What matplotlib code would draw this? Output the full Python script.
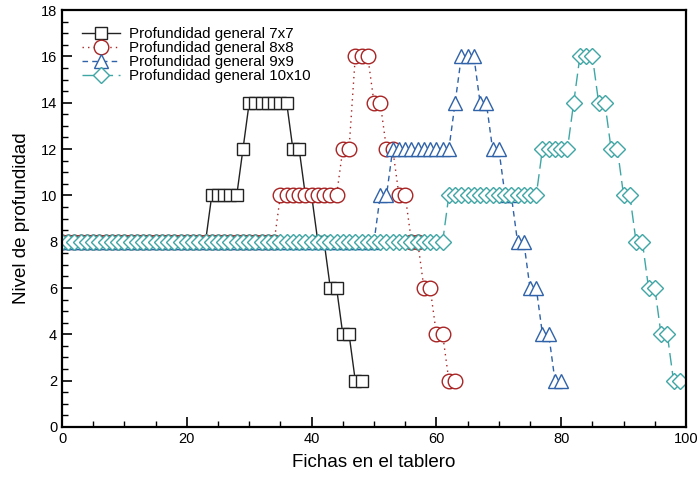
import matplotlib
matplotlib.use("Agg")
import matplotlib.pyplot as plt
from matplotlib.ticker import MultipleLocator

plt.rcParams['font.family'] = ['Liberation Sans', 'DejaVu Sans']

labels = ["Profundidad general 7x7", "Profundidad general 8x8",
          "Profundidad general 9x9", "Profundidad general 10x10"]

depth_7x7 = [8, 8, 8, 8, 8, 8, 8, 8, 8, 8,
             8, 8, 8, 8, 8, 8, 8, 8, 8, 8,
             8, 8, 8, 8,
             10, 10, 10, 10, 10,
             12,
             14, 14, 14, 14, 14, 14, 14,
             12, 12, 10, 10, 8, 8, 6, 6, 4, 4, 2, 2]

depth_8x8 = [8, 8, 8, 8, 8, 8, 8, 8, 8, 8,
             8, 8, 8, 8, 8, 8, 8, 8, 8, 8,
             8, 8, 8, 8, 8, 8, 8, 8, 8, 8,
             8, 8, 8, 8, 8,
             10, 10, 10, 10, 10, 10, 10, 10, 10, 10,
             12, 12,
             16, 16, 16,
             14, 14, 12, 12, 10, 10, 8, 8, 6, 6, 4, 4, 2, 2]

depth_9x9 = [8, 8, 8, 8, 8, 8, 8, 8, 8, 8,
             8, 8, 8, 8, 8, 8, 8, 8, 8, 8,
             8, 8, 8, 8, 8, 8, 8, 8, 8, 8,
             8, 8, 8, 8, 8, 8, 8, 8, 8, 8,
             8, 8, 8, 8, 8, 8, 8, 8, 8, 8,
             8,
             10, 10,
             12, 12, 12, 12, 12, 12, 12, 12, 12, 12,
             14,
             16, 16, 16,
             14, 14, 12, 12, 10, 10, 8, 8, 6, 6, 4, 4, 2, 2]

depth_10x10 = [8, 8, 8, 8, 8, 8, 8, 8, 8, 8,
               8, 8, 8, 8, 8, 8, 8, 8, 8, 8,
               8, 8, 8, 8, 8, 8, 8, 8, 8, 8,
               8, 8, 8, 8, 8, 8, 8, 8, 8, 8,
               8, 8, 8, 8, 8, 8, 8, 8, 8, 8,
               8, 8, 8, 8, 8, 8, 8, 8, 8, 8,
               8, 8,
               10, 10, 10, 10, 10, 10, 10, 10, 10, 10, 10, 10, 10, 10, 10,
               12, 12, 12, 12, 12,
               14,
               16, 16, 16,
               14, 14, 12, 12, 10, 10, 8, 8, 6, 6, 4, 4, 2, 2]

series = [depth_7x7, depth_8x8, depth_9x9, depth_10x10]
colors = ["#222222", "#a82424", "#2f62a8", "#3fa6a6"]
markers = ["s", "o", "^", "D"]
msizes = [8.5, 10.5, 9.5, 7.8]
styles = ["-", (0, (1, 3)), (0, (4, 3)), (0, (9, 4))]

fig = plt.figure(figsize=(7.0, 4.79), dpi=100)
ax = fig.add_axes([0.0886, 0.1086, 0.8914, 0.8704])

for ys, c, m, ms, ls, lab in zip(series, colors, markers, msizes, styles, labels):
    xs = list(range(len(ys)))
    ax.plot(xs, ys, color=c, linestyle=ls, linewidth=1.0, marker=m,
            markersize=ms, markerfacecolor="white",
            markeredgecolor=c, markeredgewidth=1.0, label=lab)

ax.set_xlim(0, 100)
ax.set_ylim(0, 18)
ax.xaxis.set_major_locator(MultipleLocator(20))
ax.xaxis.set_minor_locator(MultipleLocator(5))
ax.yaxis.set_major_locator(MultipleLocator(2))
ax.yaxis.set_minor_locator(MultipleLocator(0.5))
ax.tick_params(which="both", direction="in", top=False, right=False, labelsize=10.5)
ax.tick_params(which="major", length=7, width=1.2)
ax.tick_params(which="minor", length=4, width=1.0)
for s in ax.spines.values():
    s.set_linewidth(1.6)

ax.set_xlabel("Fichas en el tablero", fontsize=13.5, labelpad=6)
ax.set_ylabel("Nivel de profundidad", fontsize=13.5, labelpad=8)

leg = ax.legend(loc="upper left", frameon=False, fontsize=10.9, handlelength=2.5,
                handletextpad=0.6, labelspacing=0.0, borderaxespad=0.3,
                bbox_to_anchor=(0.015, 0.985))

fig.savefig("out.png", dpi=100)
